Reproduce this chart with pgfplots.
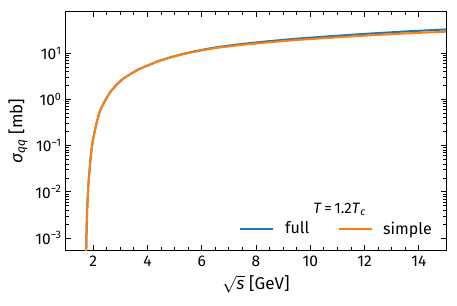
\documentclass[border=0pt]{standalone}
\usepackage{pgfplots}
\pgfplotsset{compat=1.18}
\usepackage{fontspec}
\setmainfont{Fira Sans}
\definecolor{mplblue}{HTML}{1F77B4}
\definecolor{mplorange}{HTML}{FF7F0E}
\pgfplotstableread{
x y
1.733 1e-5
1.74 4e-4
1.76 1.8e-3
1.785 4.9e-3
1.82 0.013
1.86 0.026
1.9 0.05
1.95 0.09
2.0 0.14
2.07 0.22
2.15 0.35
2.25 0.56
2.35 0.75
2.5 1.09
2.65 1.5
2.87 2.1
3.1 2.8
3.36 3.5
3.65 4.4
3.97 5.3
4.4 6.7
4.83 8.0
5.25 9.3
5.69 10.6
6.1 11.8
6.61 13.2
7.5 15.2
8.5 17.3
9.5 19.3
10.73 21.6
12 24
13.5 26.8
15 29.2
}\simpletab
\pgfplotstableread{
x y
1.733 1e-5
1.74 4e-4
1.76 1.8e-3
1.785 4.9e-3
1.82 0.013
1.86 0.026
1.9 0.05
1.95 0.09
2.0 0.14
2.07 0.22
2.15 0.35
2.25 0.56
2.35 0.75
2.5 1.09
2.65 1.5
2.87 2.1
3.1 2.8
3.36 3.5
3.65 4.4
3.97 5.3
4.4 6.75
4.83 8.1
5.25 9.45
5.69 10.85
6.1 12.1
6.61 13.65
7.5 15.9
8.5 18.3
9.5 20.6
10.73 23.3
12 26.2
13.5 29.6
15 32.7
}\fulltab
\begin{document}
\fontsize{16pt}{18pt}\selectfont
\begin{tikzpicture}
\begin{axis}[
  name=ax,
  scale only axis,
  width=380pt, height=238pt,
  xmin=1, xmax=15,
  ymode=log, ymin=5.5e-4, ymax=78,
  xtick={2,4,6,8,10,12,14},
  minor x tick num=3,
  ytick={1e-3,1e-2,1e-1,1,10},
  yticklabels={10\textsuperscript{−3},10\textsuperscript{−2},10\textsuperscript{−1},10\textsuperscript{0},10\textsuperscript{1}},
  /pgf/number format/assume math mode=true,
  tick align=inside,
  xtick pos=both, ytick pos=both,
  major tick length=5pt, minor tick length=3pt,
  every tick/.style={black, line width=0.8pt},
  axis line style={line width=1pt},
  tick label style={font=\fontsize{15.5pt}{17pt}\selectfont},
  yticklabel style={xshift=1pt},
  label style={font=\fontsize{17pt}{19pt}\selectfont},
  xlabel={$\sqrt{\mbox{\itshape s}}$ [GeV]},
  ylabel={\textit{σ}\textsubscript{\textit{qq}} [mb]},
  ylabel style={yshift=-3pt},
  xlabel style={yshift=2pt},
  legend style={at={(rel axis cs:0.963,0.088)}, anchor=east, draw=none, fill=none,
    inner sep=0pt, legend columns=2, font=\fontsize{16pt}{18pt}\selectfont,
    nodes={inner xsep=0pt, inner ysep=2pt}},
  legend cell align=left,
  legend image code/.code={\draw[#1] (0pt,0pt) -- (33pt,0pt);},
]
\addplot[mplblue, line width=2pt] table[x=x,y=y] {\fulltab};
\addlegendentry{\kern11pt full\kern29pt}
\addplot[mplorange, line width=2pt] table[x=x,y=y] {\simpletab};
\addlegendentry{\kern10pt simple}
\node[font=\fontsize{15pt}{17pt}\selectfont] at (rel axis cs:0.72,0.172) {\textit{T}\,=\,1.2\textit{T}\textsubscript{\textit{c}}};
\end{axis}
\pgfresetboundingbox
\path ([shift={(-66pt,-55pt)}]ax.south west) rectangle ([shift={(11pt,12pt)}]ax.north east);
\end{tikzpicture}
\end{document}
